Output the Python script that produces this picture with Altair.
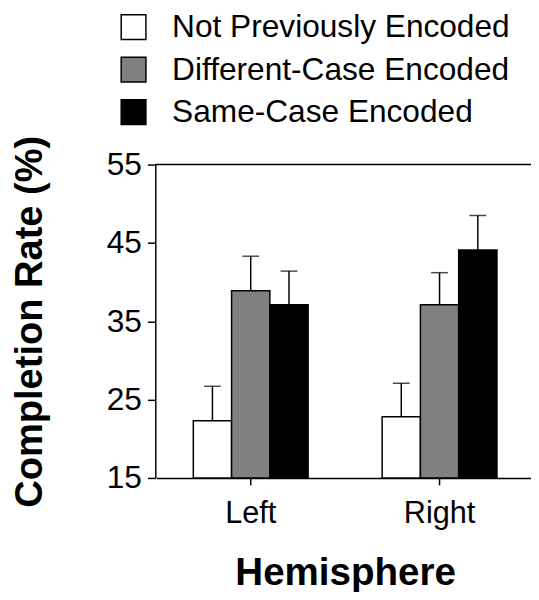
import altair as alt
import pandas as pd

hemispheres = ["Left", "Right"]
conditions = ["Not Previously Encoded", "Different-Case Encoded", "Same-Case Encoded"]
left_means = [22.3, 38.9, 37.1]
right_means = [22.8, 37.1, 44.1]
left_upper = [26.7, 43.3, 41.4]
right_upper = [27.1, 41.2, 48.5]
fill_colors = ["#ffffff", "#808080", "#000000"]
y_min, y_max = 15, 55

rows = []
for h, means, ups in [("Left", left_means, left_upper), ("Right", right_means, right_upper)]:
    for c, m, u in zip(conditions, means, ups):
        rows.append({"Hemisphere": h, "Condition": c, "Rate": m, "Upper": u})
df = pd.DataFrame(rows)

W, H = 380, 317
FONT = "Liberation Sans"

x_enc = alt.X("Hemisphere:N", sort=hemispheres,
              scale=alt.Scale(paddingInner=0, paddingOuter=0, range=[1, 383]),
              axis=alt.Axis(title="Hemisphere", labelAngle=0, labelFontSize=31,
                            titleFontSize=39, titleFontWeight="bold", tickSize=7,
                            labelPadding=14, titlePadding=26, domainWidth=1.5,
                            tickWidth=1.5, domainColor="black", tickColor="black",
                            labelColor="black", titleColor="black"))
xo_enc = alt.XOffset("Condition:N", sort=conditions,
                     scale=alt.Scale(paddingInner=0, paddingOuter=0.967))

base = alt.Chart(df)

bars = base.mark_bar(stroke="black", strokeWidth=1.5).encode(
    x=x_enc,
    xOffset=xo_enc,
    y=alt.Y("Rate:Q", scale=alt.Scale(domain=[y_min, y_max], nice=False, zero=False),
            axis=alt.Axis(title="Completion Rate (%)",
                          values=[15, 20, 25, 30, 35, 40, 45, 50, 55],
                          labelExpr="datum.value % 10 == 5 ? datum.label : ''",
                          tickSize={"condition": {"test": "datum.value % 10 == 5", "value": 8}, "value": 5},
                          labelFontSize=32, titleFontSize=38.5, titleFontWeight="bold",
                          labelPadding=6, titlePadding=58, domainWidth=1.5, tickWidth=1.5,
                          domainColor="black", tickColor="black", labelColor="black",
                          titleColor="black", grid=False)),
    y2=alt.datum(y_min),
    fill=alt.Fill("Condition:N", sort=conditions,
                  scale=alt.Scale(domain=conditions, range=fill_colors),
                  legend=alt.Legend(title=None, orient="none", legendX=-38, legendY=-155,
                                    symbolType="square", symbolSize=625,
                                    symbolStrokeColor="black", symbolStrokeWidth=1.5,
                                    labelFontSize=32, labelOffset=23, rowPadding=11,
                                    labelColor="black", labelLimit=500)),
)

err_line = base.mark_rule(color="black", strokeWidth=1.5).encode(
    x=x_enc, xOffset=xo_enc, y="Rate:Q", y2="Upper:Q")

err_cap = base.mark_tick(color="black", thickness=1.5, size=17, orient="horizontal").encode(
    x=x_enc, xOffset=xo_enc, y="Upper:Q")

top_line = alt.Chart(pd.DataFrame({"v": [y_max]})).mark_rule(color="black", strokeWidth=1.5).encode(
    y=alt.Y("v:Q"), x=alt.value(0), x2=alt.value(W))

chart = alt.layer(err_line, err_cap, bars, top_line).properties(
    width=W, height=H,
    autosize=alt.AutoSizeParams(type="none"),
    padding={"left": 149, "top": 155, "right": 0, "bottom": 112},
).configure(font=FONT).configure_view(stroke=None)

chart.save("out.html", embed_options={"renderer": "svg", "actions": False})
